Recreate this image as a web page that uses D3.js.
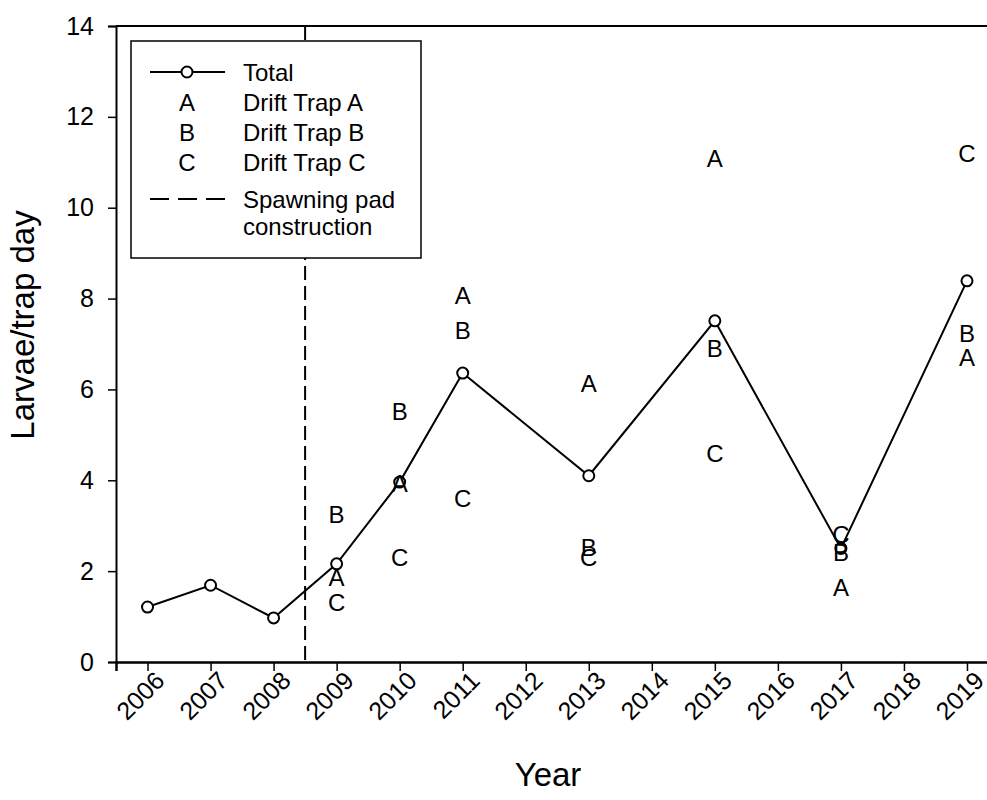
<!DOCTYPE html>
<html>
<head>
<meta charset="utf-8">
<script src="https://cdn.jsdelivr.net/npm/d3@7"></script>
<style>
  html, body { margin: 0; padding: 0; background: #fff; }
  svg { display: block; font-family: Arial, "Liberation Sans", sans-serif; }
</style>
</head>
<body>
<svg id="chart" width="987" height="800"></svg>
<script>
// Larval drift counts per trap day, by year
const years = [2006, 2007, 2008, 2009, 2010, 2011, 2012, 2013, 2014, 2015, 2016, 2017, 2018, 2019];
const yTicks = [0, 2, 4, 6, 8, 10, 12, 14];

const totalYears  = [2006, 2007, 2008, 2009, 2010, 2011, 2013, 2015, 2017, 2019];
const totalValues = [1.21, 1.69, 0.97, 2.16, 3.96, 6.36, 4.10, 7.51, 2.50, 8.39];

const trapYears = [2009, 2010, 2011, 2013, 2015, 2017, 2019];
const trapA = [1.87, 3.94, 8.08, 6.14, 11.09, 1.65, 6.71];
const trapB = [3.24, 5.52, 7.31, 2.53, 6.91, 2.42, 7.24];
const trapC = [1.32, 2.31, 3.61, 2.31, 4.60, 2.82, 11.20];

const padYear = 2008.5;

const legendLabels = ["Total", "Drift Trap A", "Drift Trap B", "Drift Trap C", "Spawning pad", "construction"];

const FONT = "Arial, 'Liberation Sans', sans-serif";
const svg = d3.select("#chart");

const x = d3.scaleLinear().domain([2005.5, 2019.5]).range([116, 998.5]);
const y = d3.scaleLinear().domain([0, 14]).range([662, 26]);

// plot frame (top and right edges)
svg.append("path")
  .attr("d", `M${x.range()[0]},${y(14)}H${x.range()[1]}V${y(0)}`)
  .attr("fill", "none").attr("stroke", "#000").attr("stroke-width", 2);

// y axis
const yAxis = svg.append("g")
  .attr("transform", `translate(${x.range()[0]},0)`)
  .call(d3.axisLeft(y).tickValues(yTicks).tickFormat(d3.format("d")).tickSize(8).tickPadding(14));
yAxis.select(".domain").attr("stroke-width", 2);
yAxis.selectAll(".tick line").attr("stroke-width", 1.5);
yAxis.selectAll(".tick text").attr("font-size", 25).attr("font-family", FONT).attr("fill", "#000");

// x axis
const xAxis = svg.append("g")
  .attr("transform", `translate(0,${y(0)})`)
  .call(d3.axisBottom(x).tickValues(years).tickFormat(d3.format("d")).tickSize(9).tickPadding(4));
xAxis.select(".domain").attr("stroke-width", 2.5);
xAxis.selectAll(".tick line").attr("stroke-width", 1.5);
xAxis.selectAll(".tick text")
  .attr("font-size", 25).attr("font-family", FONT).attr("fill", "#000")
  .attr("text-anchor", "end")
  .attr("dy", null)
  .attr("transform", "translate(9,11) rotate(-45)");

// axis titles
svg.append("text")
  .attr("x", 548).attr("y", 786)
  .attr("text-anchor", "middle").attr("font-size", 33)
  .text("Year");
svg.append("text")
  .attr("transform", `translate(34,325) rotate(-90)`)
  .attr("text-anchor", "middle").attr("font-size", 33)
  .text("Larvae/trap day");

// spawning pad construction marker
svg.append("line")
  .attr("x1", x(padYear)).attr("x2", x(padYear))
  .attr("y1", y(14)).attr("y2", y(0))
  .attr("stroke", "#000").attr("stroke-width", 2)
  .attr("stroke-dasharray", "14,6");

// total line with open circles
const totalPts = totalYears.map((yr, i) => [yr, totalValues[i]]);
svg.append("path")
  .datum(totalPts)
  .attr("fill", "none").attr("stroke", "#000").attr("stroke-width", 2)
  .attr("d", d3.line().x(d => x(d[0])).y(d => y(d[1])));
svg.selectAll("circle.total")
  .data(totalPts)
  .join("circle")
  .attr("class", "total")
  .attr("cx", d => x(d[0])).attr("cy", d => y(d[1]))
  .attr("r", 5.5)
  .attr("fill", "#fff").attr("stroke", "#000").attr("stroke-width", 2);

// individual trap values drawn as letter symbols
const traps = [["A", trapA], ["B", trapB], ["C", trapC]];
traps.forEach(([letter, vals]) => {
  svg.selectAll(null)
    .data(trapYears.map((yr, i) => [yr, vals[i]]))
    .join("text")
    .attr("x", d => x(d[0])).attr("y", d => y(d[1]))
    .attr("dy", "0.36em")
    .attr("text-anchor", "middle").attr("font-size", 24)
    .text(letter);
});

// legend
const lg = svg.append("g");
lg.append("rect")
  .attr("x", 131).attr("y", 41).attr("width", 290).attr("height", 217)
  .attr("fill", "#fff").attr("stroke", "#000").attr("stroke-width", 1.5);
const symX = 187, txtX = 243;
const rowY = [72, 102, 132, 162, 199, 226];
lg.append("line").attr("x1", 150).attr("x2", 225).attr("y1", rowY[0]).attr("y2", rowY[0])
  .attr("stroke", "#000").attr("stroke-width", 2);
lg.append("circle").attr("cx", symX).attr("cy", rowY[0]).attr("r", 5.5)
  .attr("fill", "#fff").attr("stroke", "#000").attr("stroke-width", 2);
["A", "B", "C"].forEach((l, i) => {
  lg.append("text").attr("x", symX).attr("y", rowY[i + 1]).attr("dy", "0.36em")
    .attr("text-anchor", "middle").attr("font-size", 24).text(l);
});
lg.append("line").attr("x1", 150).attr("x2", 225).attr("y1", rowY[4]).attr("y2", rowY[4])
  .attr("stroke", "#000").attr("stroke-width", 2).attr("stroke-dasharray", "19,9");
legendLabels.forEach((t, i) => {
  lg.append("text").attr("x", txtX).attr("y", rowY[i]).attr("dy", "0.36em")
    .attr("font-size", 24).text(t);
});
</script>
</body>
</html>
